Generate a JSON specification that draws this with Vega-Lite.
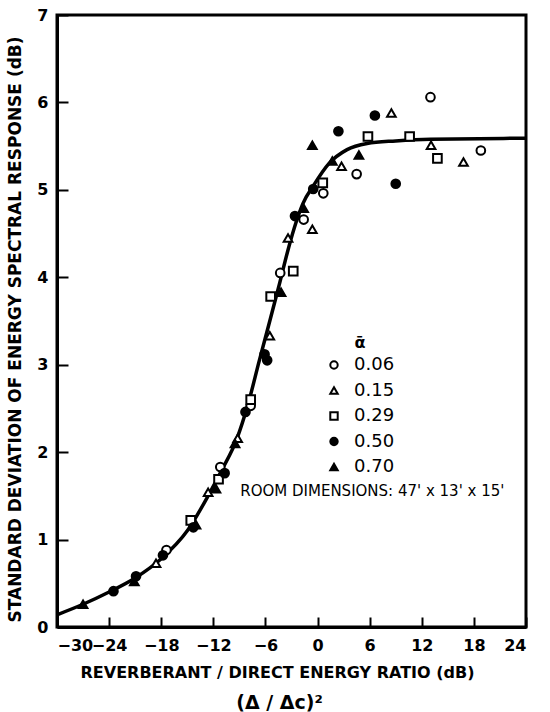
{
  "$schema": "https://vega.github.io/schema/vega-lite/v6.json",
  "width": 469,
  "height": 612,
  "autosize": "none",
  "padding": {"left": 57, "top": 15, "right": 24, "bottom": 85},
  "background": "white",
  "title": {"text": "(Δ / Δc)²", "orient": "bottom", "anchor": "middle", "dx": -12, "offset": 14, "fontSize": 19, "fontWeight": "bold", "font": "DejaVu Sans", "color": "black"},
  "config": {
    "font": "DejaVu Sans",
    "view": {"stroke": "black", "strokeWidth": 3},
    "axis": {
      "grid": false,
      "domainColor": "black",
      "domainWidth": 3,
      "tickColor": "black",
      "tickWidth": 2,
      "labelColor": "black",
      "labelFont": "DejaVu Sans",
      "labelFontWeight": "bold",
      "labelFontSize": 16,
      "labelOverlap": false,
      "titleColor": "black",
      "titleFont": "DejaVu Sans",
      "titleFontWeight": "bold",
      "titleFontSize": 16
    }
  },
  "datasets": {
    "curve": [
      {"x": -30, "y": 0.14}, {"x": -27, "y": 0.26}, {"x": -24, "y": 0.40},
      {"x": -21, "y": 0.56}, {"x": -18, "y": 0.78}, {"x": -15, "y": 1.10},
      {"x": -12.6, "y": 1.50}, {"x": -11, "y": 1.80}, {"x": -9.3, "y": 2.15},
      {"x": -8, "y": 2.55}, {"x": -6.7, "y": 3.05}, {"x": -5.5, "y": 3.50},
      {"x": -4.5, "y": 3.88}, {"x": -3.3, "y": 4.35}, {"x": -2.5, "y": 4.62},
      {"x": -1.7, "y": 4.84}, {"x": -0.4, "y": 5.06}, {"x": 1.3, "y": 5.30},
      {"x": 3.4, "y": 5.46}, {"x": 5.7, "y": 5.53}, {"x": 9, "y": 5.56},
      {"x": 13, "y": 5.58}, {"x": 24, "y": 5.59}
    ],
    "points": [
      {"alpha": "0.06", "x": 13.0, "y": 6.06},
      {"alpha": "0.06", "x": 18.8, "y": 5.45},
      {"alpha": "0.06", "x": 4.5, "y": 5.18},
      {"alpha": "0.06", "x": 0.66, "y": 4.96},
      {"alpha": "0.06", "x": -1.6, "y": 4.66},
      {"alpha": "0.06", "x": -4.3, "y": 4.05},
      {"alpha": "0.06", "x": -7.7, "y": 2.53},
      {"alpha": "0.06", "x": -11.2, "y": 1.83},
      {"alpha": "0.06", "x": -17.4, "y": 0.88},
      {"alpha": "0.15", "x": 8.5, "y": 5.88},
      {"alpha": "0.15", "x": 13.07, "y": 5.51},
      {"alpha": "0.15", "x": 16.8, "y": 5.32},
      {"alpha": "0.15", "x": 2.76, "y": 5.27},
      {"alpha": "0.15", "x": -0.6, "y": 4.55},
      {"alpha": "0.15", "x": -3.4, "y": 4.45},
      {"alpha": "0.15", "x": -5.5, "y": 3.33},
      {"alpha": "0.15", "x": -9.2, "y": 2.16},
      {"alpha": "0.15", "x": -12.6, "y": 1.54},
      {"alpha": "0.15", "x": -18.6, "y": 0.73},
      {"alpha": "0.29", "x": 5.8, "y": 5.61},
      {"alpha": "0.29", "x": 10.6, "y": 5.61},
      {"alpha": "0.29", "x": 13.8, "y": 5.36},
      {"alpha": "0.29", "x": 0.6, "y": 5.08},
      {"alpha": "0.29", "x": -2.8, "y": 4.07},
      {"alpha": "0.29", "x": -5.4, "y": 3.78},
      {"alpha": "0.29", "x": -7.7, "y": 2.60},
      {"alpha": "0.29", "x": -11.4, "y": 1.69},
      {"alpha": "0.29", "x": -14.6, "y": 1.22},
      {"alpha": "0.50", "x": 6.6, "y": 5.85},
      {"alpha": "0.50", "x": 2.4, "y": 5.67},
      {"alpha": "0.50", "x": 9.0, "y": 5.07},
      {"alpha": "0.50", "x": -0.5, "y": 5.01},
      {"alpha": "0.50", "x": -2.6, "y": 4.70},
      {"alpha": "0.50", "x": -6.1, "y": 3.12},
      {"alpha": "0.50", "x": -5.8, "y": 3.05},
      {"alpha": "0.50", "x": -8.3, "y": 2.46},
      {"alpha": "0.50", "x": -10.7, "y": 1.76},
      {"alpha": "0.50", "x": -14.3, "y": 1.14},
      {"alpha": "0.50", "x": -17.8, "y": 0.82},
      {"alpha": "0.50", "x": -20.9, "y": 0.58},
      {"alpha": "0.50", "x": -23.5, "y": 0.41},
      {"alpha": "0.70", "x": -0.6, "y": 5.51},
      {"alpha": "0.70", "x": 4.76, "y": 5.40},
      {"alpha": "0.70", "x": 1.7, "y": 5.33},
      {"alpha": "0.70", "x": -1.6, "y": 4.79},
      {"alpha": "0.70", "x": -4.2, "y": 3.83},
      {"alpha": "0.70", "x": -9.5, "y": 2.10},
      {"alpha": "0.70", "x": -11.7, "y": 1.58},
      {"alpha": "0.70", "x": -14.0, "y": 1.17},
      {"alpha": "0.70", "x": -21.1, "y": 0.52},
      {"alpha": "0.70", "x": -27.0, "y": 0.26}
    ],
    "notes": [
      {"x": -8.9, "y": 1.55, "label": "ROOM DIMENSIONS: 47' x 13' x 15'"}
    ]
  },
  "layer": [
    {
      "data": {"name": "curve"},
      "mark": {"type": "line", "color": "black", "strokeWidth": 3.5, "interpolate": "monotone"},
      "encoding": {
        "x": {
          "field": "x", "type": "quantitative",
          "scale": {"domain": [-30, 24], "nice": false, "zero": false},
          "axis": {
            "values": [-30, -24, -18, -12, -6, 0, 6, 12, 18, 24],
            "format": "d",
            "tickSize": -10,
            "labelPadding": 20,
            "title": "REVERBERANT / DIRECT ENERGY RATIO  (dB)",
            "titleX": 220,
            "titleY": 37,
            "titleBaseline": "top"
          }
        },
        "y": {
          "field": "y", "type": "quantitative",
          "scale": {"domain": [0, 7], "nice": false},
          "axis": {
            "values": [0, 1, 2, 3, 4, 5, 6, 7],
            "format": "d",
            "tickSize": -11,
            "labelPadding": 20,
            "title": "STANDARD DEVIATION OF ENERGY SPECTRAL RESPONSE  (dB)",
            "titleFontSize": 17,
            "titleX": -42,
            "titleY": 314,
            "titleAngle": -90,
            "titleBaseline": "middle",
            "titleAlign": "center"
          }
        }
      }
    },
    {
      "data": {"name": "points"},
      "mark": {"type": "point", "filled": true, "strokeWidth": 2, "size": 75, "opacity": 1},
      "encoding": {
        "x": {"field": "x", "type": "quantitative"},
        "y": {"field": "y", "type": "quantitative"},
        "shape": {
          "field": "alpha", "type": "nominal",
          "scale": {"domain": ["0.06", "0.15", "0.29", "0.50", "0.70"], "range": ["circle", "triangle-up", "square", "circle", "triangle-up"]},
          "legend": {
            "title": "ᾱ",
            "orient": "none",
            "legendX": 268,
            "legendY": 320,
            "titleFontSize": 16,
            "titleFontWeight": "bold",
            "titleColor": "black",
            "titleAnchor": "middle",
            "titleAlign": "center",
            "labelFontSize": 18,
            "labelColor": "black",
            "labelFont": "DejaVu Sans",
            "symbolSize": 55,
            "symbolStrokeWidth": 2,
            "rowPadding": 7.5,
            "labelOffset": 11
          }
        },
        "fill": {
          "field": "alpha", "type": "nominal",
          "scale": {"domain": ["0.06", "0.15", "0.29", "0.50", "0.70"], "range": ["white", "white", "white", "black", "black"]},
          "legend": {
            "title": "ᾱ",
            "orient": "none",
            "legendX": 268,
            "legendY": 320,
            "titleFontSize": 16,
            "titleFontWeight": "bold",
            "titleColor": "black",
            "titleAnchor": "middle",
            "titleAlign": "center",
            "labelFontSize": 18,
            "labelColor": "black",
            "labelFont": "DejaVu Sans",
            "symbolSize": 55,
            "symbolStrokeWidth": 2,
            "rowPadding": 7.5,
            "labelOffset": 11
          }
        },
        "stroke": {
          "field": "alpha", "type": "nominal",
          "scale": {"domain": ["0.06", "0.15", "0.29", "0.50", "0.70"], "range": ["black", "black", "black", "black", "black"]},
          "legend": {
            "title": "ᾱ",
            "orient": "none",
            "legendX": 268,
            "legendY": 320,
            "titleFontSize": 16,
            "titleFontWeight": "bold",
            "titleColor": "black",
            "titleAnchor": "middle",
            "titleAlign": "center",
            "labelFontSize": 18,
            "labelColor": "black",
            "labelFont": "DejaVu Sans",
            "symbolSize": 55,
            "symbolStrokeWidth": 2,
            "rowPadding": 7.5,
            "labelOffset": 11
          }
        }
      }
    },
    {
      "data": {"name": "notes"},
      "mark": {"type": "text", "align": "left", "baseline": "middle", "fontSize": 15, "color": "black", "font": "DejaVu Sans"},
      "encoding": {
        "x": {"field": "x", "type": "quantitative"},
        "y": {"field": "y", "type": "quantitative"},
        "text": {"field": "label"}
      }
    }
  ]
}
